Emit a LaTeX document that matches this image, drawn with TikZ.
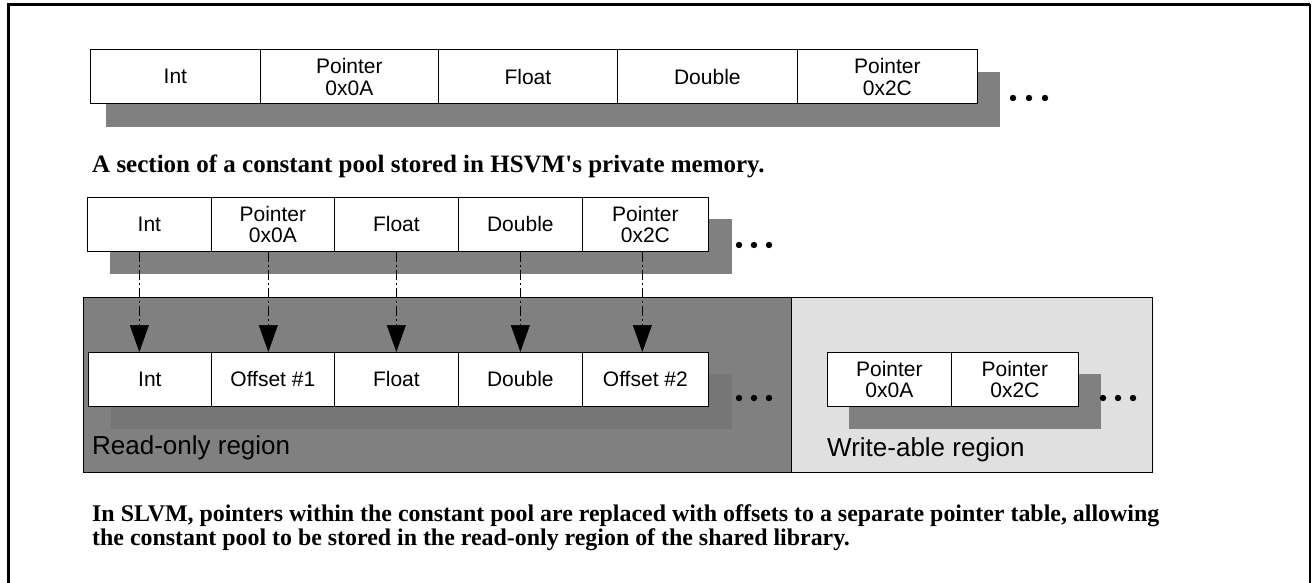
\documentclass[tikz,border=0pt]{standalone}
\usepackage{fontspec}
\setmainfont{Liberation Sans}
\newfontfamily\capfont{Liberation Serif}
\usetikzlibrary{arrows.meta}
\definecolor{midgray}{RGB}{128,128,128}
\definecolor{darkgray2}{RGB}{118,118,118}
\definecolor{lightgray2}{RGB}{224,224,224}
\begin{document}
\begin{tikzpicture}[x=1pt,y=-1pt,
  cell/.style={draw, fill=white, minimum height=54pt, inner sep=0pt, anchor=north west,
    align=center, font=\fontsize{21}{21.5}\selectfont, line width=0.7pt},
  shade1/.style={fill=midgray},
  shade2/.style={fill=darkgray2},
  region/.style={draw, line width=0.7pt},
  dotfill/.style={fill=black},
  caption/.style={anchor=base west, align=left, font=\capfont\bfseries\fontsize{23.9}{21.5}\selectfont, inner sep=0pt},
  rlabel/.style={anchor=base west, inner sep=0pt, font=\fontsize{26}{26}\selectfont},
  link/.style={line width=0.7pt, dash pattern=on 10pt off 3pt on 2pt off 3pt,
    -{Triangle[width=19pt,length=27pt]}}]
\useasboundingbox (0,0) rectangle (1312,583);
% outer frame
\draw[line width=3pt] (8.5,583) -- (8.5,4.5) -- (1310,4.5);
\draw[line width=2pt] (1310,4.5) -- (1310,583);

% ---- row 1 ----
\fill[shade1] (106,72) rectangle (1000,127);
\node[cell, minimum width=170pt] (a1) at (90,49.5) {Int};
\node[cell, minimum width=178pt] (a2) at (260,49.5) {Pointer\\0x0A};
\node[cell, minimum width=179pt] (a3) at (438,49.5) {Float};
\node[cell, minimum width=180pt] (a4) at (617,49.5) {Double};
\node[cell, minimum width=180pt] (a5) at (797,49.5) {Pointer\\0x2C};
\foreach \x in {1013,1029,1045} \fill[dotfill] (\x,98) circle (3.2pt);
\node[caption, font=\capfont\bfseries\fontsize{25}{25}\selectfont] (cap1) at (92,172) {A section of a constant pool stored in HSVM's private memory.};

% ---- regions ----
\filldraw[region, fill=midgray] (83,297) rectangle (791,472);
\filldraw[region, fill=lightgray2] (791,297) rectangle (1152,472);

% ---- row 2 ----
\fill[shade1] (110,219) rectangle (732,274);
\node[cell, minimum width=124pt] (b1) at (87,197) {Int};
\node[cell, minimum width=123pt] (b2) at (211,197) {Pointer\\0x0A};
\node[cell, minimum width=124pt] (b3) at (334,197) {Float};
\node[cell, minimum width=124pt] (b4) at (458,197) {Double};
\node[cell, minimum width=126pt] (b5) at (582,197) {Pointer\\0x2C};
\foreach \x in {739,754,769} \fill[dotfill] (\x,245) circle (3.2pt);

% ---- row 3 (read-only) ----
\fill[shade2] (111,374) rectangle (732,429);
\node[cell, minimum width=123pt] (c1) at (88,352) {Int};
\node[cell, minimum width=123pt] (c2) at (211,352) {Offset \#1};
\node[cell, minimum width=124pt] (c3) at (334,352) {Float};
\node[cell, minimum width=124pt] (c4) at (458,352) {Double};
\node[cell, minimum width=126pt] (c5) at (582,352) {Offset \#2};
\foreach \x in {739,754,769} \fill[dotfill] (\x,398) circle (3.2pt);
\node[rlabel] (ro) at (92,454) {Read-only region};

% ---- pointer table (write-able) ----
\fill[shade1] (849,374) rectangle (1101,429);
\node[cell, minimum width=124pt] (d1) at (827,352) {Pointer\\0x0A};
\node[cell, minimum width=127pt] (d2) at (951,352) {Pointer\\0x2C};
\foreach \x in {1103,1118,1133} \fill[dotfill] (\x,398) circle (3.2pt);
\node[rlabel] (wr) at (827,456) {Write-able region};

% ---- links ----
\draw[link] ([xshift=-10pt]b1.south) -- ([xshift=-10.5pt]c1.north);
\draw[link] ([xshift=-4.5pt]b2.south) -- ([xshift=-4.5pt]c2.north);
\draw[link] (b3.south) -- (c3.north);
\draw[link] (b4.south) -- (c4.north);
\draw[link] ([xshift=-3pt]b5.south) -- ([xshift=-3pt]c5.north);

% ---- caption 2 ----
\node[caption] (cap2) at (92,545) {In SLVM, pointers within the constant pool are replaced with offsets to a separate pointer table, allowing\\the constant pool to be stored in the read-only region of the shared library.};
\end{tikzpicture}
\end{document}
